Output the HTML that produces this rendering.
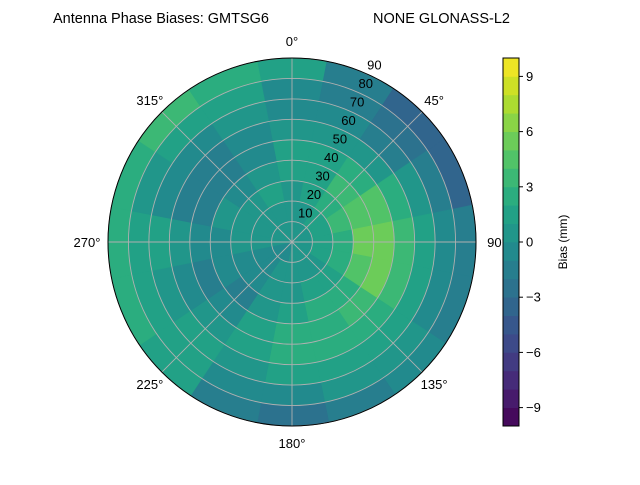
<!DOCTYPE html>
<html><head><meta charset="utf-8"><style>
body{margin:0;background:#fff;}
svg text{font-family:"Liberation Sans","DejaVu Sans",sans-serif;fill:#000;}
</style></head><body>
<svg id="chart" width="640" height="480" viewBox="0 0 640 480" xmlns="http://www.w3.org/2000/svg">
<text x="53" y="23" font-size="14.5">Antenna Phase Biases: GMTSG6</text>
<text x="373" y="23" font-size="14.5">NONE GLONASS-L2</text>
<g id="cells"></g>
<g id="grid"></g>
<g id="labels"></g>
<g id="cbar"></g>
<text transform="translate(567,242) rotate(-90)" text-anchor="middle" font-size="12">Bias (mm)</text>
</svg>
<script>
const azimuths = [0,22.5,45,67.5,90,112.5,135,157.5,180,202.5,225,247.5,270,292.5,315,337.5];
const zeniths = [5,15,25,35,45,55,65,75,85];
const biasValues = [
 [0,0,0,1,1,0,-1,-1,1],
 [0,0,1,1,1,0,-1,-2,-2],
 [0,1,2,3,2,0,-2,-3,-4],
 [0,1,3,4,4,2,0,-2,-4],
 [0,1,2,5,5,3,1,-1,-2],
 [0,1,2,4,5,3,1,-1,-2],
 [0,0,1,2,3,2,1,0,-1],
 [0,0,1,2,2,2,1,0,-2],
 [0,0,0,1,2,2,1,-1,-3],
 [-1,0,0,0,1,1,0,-1,-2],
 [-1,-1,-1,-2,-1,0,1,1,1],
 [-1,-1,-1,-1,-2,-1,0,1,2],
 [0,0,0,-1,-1,0,1,1,2],
 [0,0,0,0,-2,-2,-1,0,2],
 [0,0,0,-1,-2,-2,-1,1,3],
 [0,0,1,0,-1,-1,0,1,2]
];
const radialTicks = [10,20,30,40,50,60,70,80,90];
const angleTicks = [0,45,90,135,180,225,270,315];
const cbarTicks = [-9,-6,-3,0,3,6,9];
const cbarLevels = [-10,-9,-8,-7,-6,-5,-4,-3,-2,-1,0,1,2,3,4,5,6,7,8,9];

const NS="http://www.w3.org/2000/svg";
const cx=292, cy=242, R=184, vmin=-10, vmax=10;
const rScale = z => z/90*R;
const pt = (az,z) => { const a=az*Math.PI/180, r=rScale(z); return [cx+r*Math.sin(a), cy-r*Math.cos(a)]; };
const vir=[[68,1,84],[72,35,116],[64,67,135],[52,94,141],[41,120,142],[32,144,140],[34,167,132],[68,190,112],[121,209,81],[189,222,38],[253,231,37]];
function viridis(t){t=Math.max(0,Math.min(1,t));const s=t*10,i=Math.min(9,Math.floor(s)),f=s-i;const a=vir[i],b=vir[i+1];return `rgb(${a.map((v,k)=>Math.round(v+(b[k]-v)*f)).join(',')})`;}
const levelColor = v => { const k=Math.floor(v); return viridis((k+0.5-vmin)/(vmax-vmin)); };
function mk(tag,attrs,parent){const e=document.createElementNS(NS,tag);for(const k in attrs)e.setAttribute(k,attrs[k]);parent.appendChild(e);return e;}

const cells=document.getElementById('cells');
const dAz=22.5, dZ=10;
azimuths.forEach((az,i)=>{
  zeniths.forEach((z,j)=>{
    const a0=az-dAz/2-0.3, a1=az+dAz/2+0.3, z0=Math.max(0,z-dZ/2), z1=z+dZ/2;
    const p1=pt(a0,z0),p2=pt(a0,z1),p3=pt(a1,z1),p4=pt(a1,z0);
    const r0=rScale(z0), r1=rScale(z1);
    const d=`M${p1} L${p2} A${r1},${r1} 0 0 1 ${p3} L${p4} A${r0},${r0} 0 0 0 ${p1} Z`;
    const c=levelColor(biasValues[i][j]);
    const el=mk('path',{d:d,fill:c,stroke:c,'stroke-width':0.6},cells);
    
    
  });
});

const grid=document.getElementById('grid');
radialTicks.forEach(t=>{
  const el=mk('circle',{cx:cx,cy:cy,r:rScale(t),fill:'none',stroke:'#b0b0b0','stroke-width':0.9},grid);
  
  
});
angleTicks.forEach(a=>{
  const p=pt(a,90);
  const el=mk('line',{x1:cx,y1:cy,x2:p[0],y2:p[1],stroke:'#b0b0b0','stroke-width':0.9},grid);
  
  
});
const outer=mk('circle',{cx:cx,cy:cy,r:R,fill:'none',stroke:'#000','stroke-width':1},grid);



const labels=document.getElementById('labels');
radialTicks.forEach(t=>{
  const a=25*Math.PI/180, r=rScale(t)+11;
  const el=mk('text',{x:cx+r*Math.sin(a),y:cy-r*Math.cos(a)+4,'text-anchor':'middle','font-size':13},labels);
  el.textContent=t;
  
  
});
angleTicks.forEach(t=>{
  const a=t*Math.PI/180, r=R+17;
  const el=mk('text',{x:cx+r*Math.sin(a)+(t===90?4:t===270?-4:0),y:cy-r*Math.cos(a)+5,'text-anchor':'middle','font-size':13},labels);
  el.textContent=t+'°';
  
  
});

const cbar=document.getElementById('cbar');
const cbTop=58, cbBot=426, cbX=503, cbW=16;
const cbY = v => cbBot-(v-vmin)/(vmax-vmin)*(cbBot-cbTop);
cbarLevels.forEach(v=>{
  const el=mk('rect',{x:cbX,y:cbY(v+1),width:cbW,height:cbY(v)-cbY(v+1)+0.4,fill:levelColor(v)},cbar);
  
  
});
const fr=mk('rect',{x:cbX,y:cbTop,width:cbW,height:cbBot-cbTop,fill:'none',stroke:'#000','stroke-width':1},cbar);


cbarTicks.forEach(v=>{
  const y=cbY(v);
  const tk=mk('line',{x1:cbX+cbW,y1:y,x2:cbX+cbW+4,y2:y,stroke:'#000','stroke-width':1},cbar);
  
  
  const el=mk('text',{x:cbX+cbW+7,y:y+4.5,'font-size':13},cbar);
  el.textContent=v<0?'\u2212'+(-v):String(v);
  
  
});
</script>
</body></html>
